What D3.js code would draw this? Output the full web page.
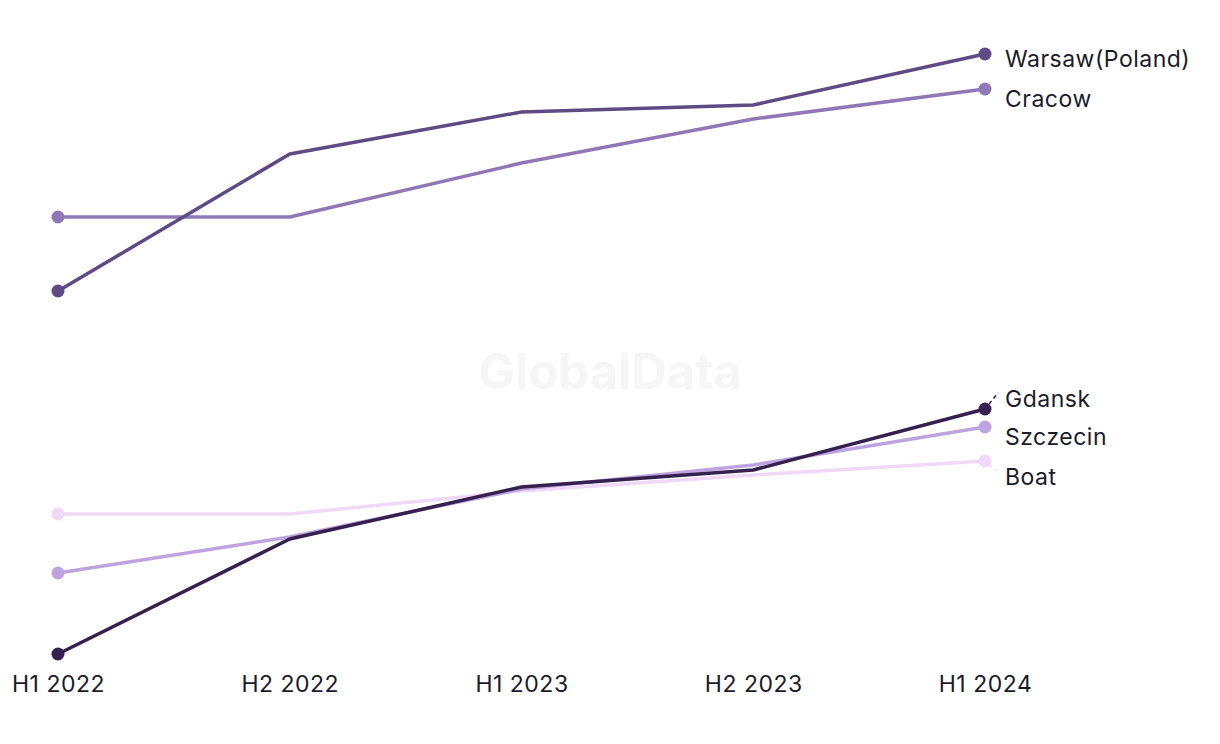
<!DOCTYPE html>
<html>
<head>
<meta charset="utf-8">
<script src="https://cdn.jsdelivr.net/npm/d3@7/dist/d3.min.js"></script>
<style>
  html, body { margin: 0; padding: 0; background: #ffffff; }
  svg { display: block; font-family: Inter, "Noto Sans", sans-serif; }
</style>
</head>
<body>
<svg id="chart" width="1220" height="744"></svg>
<script>
// ---- data ----
const periods = ["H1 2022", "H2 2022", "H1 2023", "H2 2023", "H1 2024"];
const seriesNames = ["Warsaw(Poland)", "Cracow", "Gdansk", "Szczecin", "Boat"];
const warsaw   = [40.9, 54.6, 58.8, 59.5, 64.6];
const cracow   = [48.3, 48.3, 53.7, 58.1, 61.1];
const gdansk   = [4.6, 16.1, 21.3, 23.0, 29.1];
const szczecin = [12.7, 16.3, 21.1, 23.5, 27.3];
const boat     = [18.6, 18.6, 20.9, 22.5, 23.9];
const seriesColors = ["#5e4a84", "#9078b6", "#35204f", "#bda3df", "#f0d8f8"];

const seriesValues = [warsaw, cracow, gdansk, szczecin, boat];
const series = seriesNames.map((name, i) => ({ name, values: seriesValues[i], color: seriesColors[i] }));

// ---- layout ----
const svg = d3.select("#chart");
const x = d3.scalePoint().domain(periods).range([58, 985]);
const allVals = seriesValues.flat();
const y = d3.scaleLinear().domain(d3.extent(allVals)).range([654, 54]);

// watermark
svg.append("text")
  .attr("x", 610).attr("y", 389)
  .attr("text-anchor", "middle")
  .attr("font-size", 49).attr("font-weight", 700)
  .attr("fill", "#f6f6f6")
  .text("GlobalData");

// x axis (labels only)
const xAxis = d3.axisBottom(x).tickSize(0).tickPadding(0);
const gx = svg.append("g").attr("transform", "translate(0,676)").call(xAxis);
gx.select(".domain").remove();
gx.selectAll("text")
  .attr("font-size", 23)
  .attr("font-family", "Inter, 'Noto Sans', sans-serif")
  .attr("letter-spacing", "0.5px")
  .attr("fill", "#1b1b2b")
  .attr("dy", "0.71em");

// lines
const line = d3.line().x((d, i) => x(periods[i])).y(d => y(d));
const drawOrder = [4, 3, 1, 0, 2];
drawOrder.forEach(i => {
  const s = series[i];
  svg.append("path")
    .datum(s.values)
    .attr("d", line)
    .attr("fill", "none")
    .attr("stroke", s.color)
    .attr("stroke-width", 3.5)
    .attr("stroke-linejoin", "round");
});

// dots at first and last points
drawOrder.forEach(i => {
  const s = series[i];
  [0, s.values.length - 1].forEach(j => {
    svg.append("circle")
      .attr("cx", x(periods[j]))
      .attr("cy", y(s.values[j]))
      .attr("r", 6.5)
      .attr("fill", s.color);
  });
});

// end labels with simple collision offsets
const labelOffsets = [5, 10, -10, 10, 16];
const lastIdx = periods.length - 1;
const xEnd = x(periods[lastIdx]);
series.forEach((s, i) => {
  const py = y(s.values[lastIdx]);
  const ly = py + labelOffsets[i];
  if (i === 2) {
    svg.append("line")
      .attr("x1", xEnd + 4).attr("y1", py - 5)
      .attr("x2", xEnd + 13).attr("y2", py - 16)
      .attr("stroke", s.color).attr("stroke-width", 1.5)
      .attr("stroke-dasharray", "4,3");
  }
  if (i === 4) {
    svg.append("line")
      .attr("x1", xEnd + 4).attr("y1", py + 4)
      .attr("x2", xEnd + 12).attr("y2", py + 10)
      .attr("stroke", s.color).attr("stroke-width", 1.5)
      .attr("stroke-dasharray", "4,3");
  }
  svg.append("text")
    .attr("x", 1005)
    .attr("y", ly)
    .attr("dy", "0.35em")
    .attr("font-size", 23)
    .attr("letter-spacing", "0.5px")
    .attr("fill", "#1b1b2b")
    .text(s.name);
});
</script>
</body>
</html>
